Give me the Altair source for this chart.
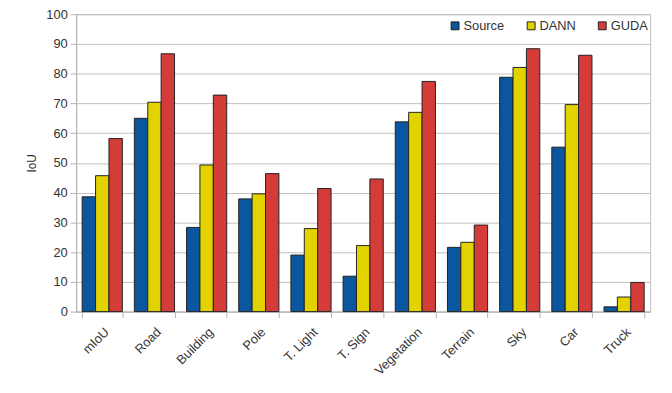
import altair as alt
import pandas as pd

categories = ["mIoU", "Road", "Building", "Pole", "T. Light", "T. Sign",
              "Vegetation", "Terrain", "Sky", "Car", "Truck"]
series = ["Source", "DANN", "GUDA"]
source = [38.6, 65.0, 28.3, 37.9, 19.0, 11.9, 63.8, 21.6, 78.8, 55.3, 1.6]
dann = [45.7, 70.4, 49.3, 39.6, 27.9, 22.2, 67.0, 23.3, 82.1, 69.6, 4.9]
guda = [58.2, 86.7, 72.8, 46.4, 41.4, 44.6, 77.4, 29.1, 88.4, 86.2, 9.8]
colors = ["#0a57a0", "#e2d300", "#d43c3a"]

rows = []
for name, vals in zip(series, [source, dann, guda]):
    for c, v in zip(categories, vals):
        rows.append({"category": c, "method": name, "IoU": v})
df = pd.DataFrame(rows)

font = "Liberation Sans"

chart = alt.Chart(df).mark_bar(stroke="#222222", strokeWidth=1).encode(
    x=alt.X("category:N", sort=categories, title=None,
            scale=alt.Scale(paddingInner=0.23, paddingOuter=0.115),
            axis=alt.Axis(labelAngle=-45, labelAlign="right", labelBaseline="top",
                          tickBand="extent", tickSize=6, tickColor="#b3b3b3",
                          domainColor="#b3b3b3", labelFont=font, labelFontSize=13,
                          labelColor="#333333", labelPadding=8, grid=False)),
    xOffset=alt.XOffset("method:N", sort=series,
                        scale=alt.Scale(paddingInner=0, paddingOuter=0)),
    y=alt.Y("IoU:Q", title="IoU",
            scale=alt.Scale(domain=[0, 100]),
            axis=alt.Axis(values=list(range(0, 101, 10)), tickSize=6,
                          tickColor="#b3b3b3", domainColor="#b3b3b3",
                          gridColor="#c0c0c0", labelFont=font, labelFontSize=13,
                          labelColor="#333333", labelPadding=3,
                          titleFont=font, titleFontSize=12, titleFontWeight="normal",
                          titleColor="#333333", titlePadding=7)),
    color=alt.Color("method:N", sort=series,
                    scale=alt.Scale(domain=series, range=colors),
                    legend=alt.Legend(title=None, orient="none", direction="horizontal",
                                      legendX=377, legendY=5, symbolType="square",
                                      symbolSize=64, symbolStrokeColor="#222222",
                                      symbolStrokeWidth=1, labelFont=font,
                                      labelFontSize=13, labelColor="#333333",
                                      columnPadding=20, labelOffset=2)),
).properties(
    width=581, height=301,
    autosize=alt.AutoSizeParams(type="none"),
    padding={"left": 69, "top": 4, "right": 14, "bottom": 71},
).configure_view(stroke="#c0c0c0")

chart.save("out.html", embed_options={"renderer": "svg", "actions": False})
